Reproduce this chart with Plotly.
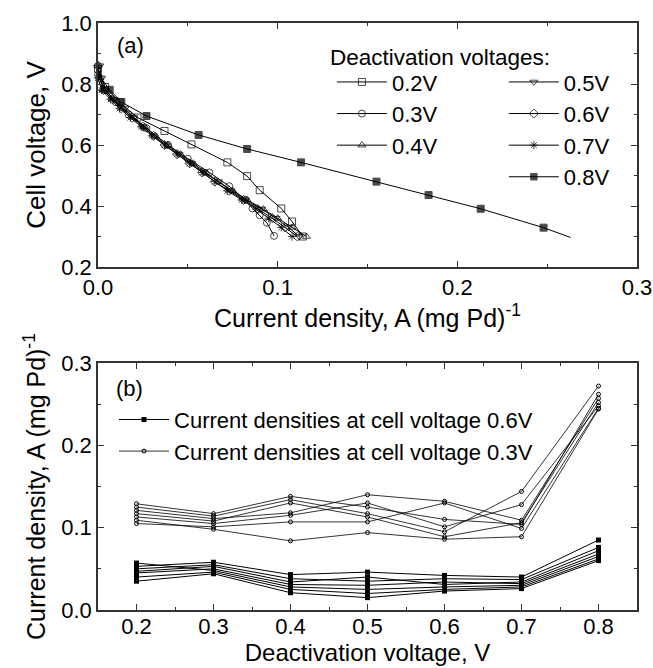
import plotly.graph_objects as go

# ---------------- Panel (a) data ----------------
v02_x = [0.000, 0.004, 0.012, 0.022, 0.037, 0.052, 0.072, 0.083, 0.090, 0.102, 0.108, 0.114]
v02_y = [0.850, 0.790, 0.740, 0.690, 0.646, 0.602, 0.543, 0.498, 0.452, 0.392, 0.349, 0.300]

v03_x = [0.000, 0.004, 0.010, 0.017, 0.027, 0.039, 0.050, 0.062, 0.073, 0.082, 0.086, 0.090, 0.094, 0.098]
v03_y = [0.830, 0.780, 0.740, 0.700, 0.655, 0.600, 0.555, 0.510, 0.465, 0.420, 0.392, 0.370, 0.345, 0.302]

grid_y = [0.86, 0.82, 0.78, 0.75, 0.72, 0.69, 0.66, 0.63, 0.60, 0.57, 0.54, 0.51, 0.48, 0.45, 0.42, 0.39, 0.36, 0.33, 0.30]
v04_x = [0.000, 0.001, 0.003, 0.008, 0.014, 0.020, 0.026, 0.032, 0.039, 0.046, 0.053, 0.060, 0.067, 0.075, 0.083, 0.092, 0.100, 0.108, 0.116]
v05_x = [0.001, 0.002, 0.004, 0.009, 0.015, 0.020, 0.025, 0.031, 0.038, 0.045, 0.052, 0.059, 0.067, 0.074, 0.082, 0.091, 0.099, 0.106, 0.112]
v06_x = [0.000, 0.001, 0.003, 0.008, 0.013, 0.019, 0.025, 0.031, 0.037, 0.044, 0.051, 0.058, 0.065, 0.073, 0.081, 0.089, 0.097, 0.104, 0.111]
v07_x = [0.000, 0.000, 0.002, 0.007, 0.012, 0.018, 0.024, 0.030, 0.037, 0.044, 0.051, 0.058, 0.065, 0.072, 0.080, 0.088, 0.095, 0.102, 0.108]

v08_x = [-0.003, 0.0065, 0.013, 0.027, 0.056, 0.083, 0.113, 0.155, 0.184, 0.213, 0.248, 0.263]
v08_y = [0.858, 0.781, 0.741, 0.695, 0.633, 0.587, 0.543, 0.480, 0.436, 0.391, 0.329, 0.297]

labels_a = ["0.2V", "0.3V", "0.4V", "0.5V", "0.6V", "0.7V", "0.8V"]

# ---------------- Panel (b) data ----------------
deact_v = [0.2, 0.3, 0.4, 0.5, 0.6, 0.7, 0.8]

cd_06 = [
    [0.053, 0.058, 0.043, 0.046, 0.042, 0.040, 0.085],
    [0.050, 0.055, 0.038, 0.035, 0.038, 0.037, 0.076],
    [0.047, 0.053, 0.034, 0.040, 0.031, 0.034, 0.072],
    [0.045, 0.050, 0.031, 0.030, 0.034, 0.032, 0.068],
    [0.057, 0.048, 0.028, 0.025, 0.028, 0.030, 0.065],
    [0.040, 0.046, 0.025, 0.020, 0.025, 0.028, 0.062],
    [0.035, 0.044, 0.021, 0.015, 0.023, 0.026, 0.060],
]
cd_03 = [
    [0.129, 0.117, 0.138, 0.125, 0.110, 0.104, 0.262],
    [0.125, 0.114, 0.134, 0.117, 0.095, 0.144, 0.272],
    [0.121, 0.111, 0.118, 0.140, 0.132, 0.109, 0.257],
    [0.117, 0.108, 0.130, 0.113, 0.089, 0.106, 0.252],
    [0.113, 0.105, 0.115, 0.130, 0.101, 0.128, 0.248],
    [0.105, 0.101, 0.107, 0.107, 0.130, 0.099, 0.245],
    [0.109, 0.098, 0.084, 0.094, 0.086, 0.089, 0.244],
]
labels_b = ["Current densities at cell voltage 0.6V", "Current densities at cell voltage 0.3V"]

FONT = "Liberation Sans, Arial, sans-serif"
fig = go.Figure()

series_a = [
    (v02_x, v02_y, "square-open", "legend"),
    (v03_x, v03_y, "circle-open", "legend"),
    (v04_x, grid_y, "triangle-up-open", "legend"),
    (v05_x, grid_y, "triangle-down-open", "legend2"),
    (v06_x, grid_y, "diamond-open", "legend2"),
    (v07_x, grid_y, "asterisk-open", "legend2"),
    (v08_x, v08_y, "square", "legend2"),
]
for i, (xs, ys, sym, lg) in enumerate(series_a):
    sizes = [7] * len(xs)
    if i == 6:
        sizes[-1] = 0
    fig.add_trace(go.Scatter(
        x=xs, y=ys, mode="lines+markers", name=labels_a[i],
        line=dict(color="black", width=1),
        marker=dict(symbol=sym, size=sizes, color="black", line=dict(color="black", width=1)),
        xaxis="x", yaxis="y", legend=lg, legendgroup="a%d" % i, cliponaxis=False,
    ))

for j, row in enumerate(cd_06):
    fig.add_trace(go.Scatter(
        x=deact_v, y=row, mode="lines+markers", name=labels_b[0],
        line=dict(color="black", width=1),
        marker=dict(symbol="square", size=5, color="black"),
        xaxis="x2", yaxis="y2", legend="legend3", legendgroup="b0",
        showlegend=(j == 0),
    ))
for j, row in enumerate(cd_03):
    fig.add_trace(go.Scatter(
        x=deact_v, y=row, mode="lines+markers", name=labels_b[1],
        line=dict(color="black", width=0.8),
        marker=dict(symbol="circle-open", size=4, color="black", line=dict(width=1)),
        xaxis="x2", yaxis="y2", legend="legend3", legendgroup="b1",
        showlegend=(j == 0),
    ))

axis_common = dict(
    showline=True, linecolor="#333", linewidth=1.5, mirror="ticks",
    ticks="inside", ticklen=6, tickwidth=1, tickcolor="#333",
    showgrid=False, zeroline=False, automargin=False,
    tickfont=dict(family=FONT, size=22, color="black"),
)
minor_common = dict(ticks="inside", ticklen=3, tickcolor="#333")

fig.update_layout(
    width=653, height=668,
    margin=dict(l=98, r=16, t=23, b=58),
    paper_bgcolor="white", plot_bgcolor="white",
    font=dict(family=FONT, color="black"),
    xaxis=dict(domain=[0, 1], range=[0, 0.3], dtick=0.1, tickformat=".1f",
               minor=dict(dtick=0.05, **minor_common),
               title=dict(text="Current density, A (mg Pd)<sup>-1</sup>", standoff=6,
                          font=dict(family=FONT, size=25, color="black")),
               anchor="y", **axis_common),
    yaxis=dict(domain=[0.5843, 1], range=[0.2, 1.0], dtick=0.2, tickformat=".1f",
               minor=dict(dtick=0.1, **minor_common),
               title=dict(text="Cell voltage, V", standoff=8,
                          font=dict(family=FONT, size=26, color="black")),
               anchor="x", **axis_common),
    xaxis2=dict(domain=[0, 1], range=[0.15, 0.85], dtick=0.1, tick0=0.2, tickformat=".1f",
                minor=dict(dtick=0.05, **minor_common),
                ticklabelstandoff=-4,
                title=dict(text="Deactivation voltage, V", standoff=5,
                           font=dict(family=FONT, size=24, color="black")),
                anchor="y2", **axis_common),
    yaxis2=dict(domain=[0, 0.4208], range=[0, 0.3], dtick=0.1, tickformat=".1f",
                minor=dict(dtick=0.05, **minor_common),
                title=dict(text="Current density, A (mg Pd)<sup>-1</sup>", standoff=8,
                           font=dict(family=FONT, size=25, color="black")),
                anchor="x2", **axis_common),
    legend=dict(x=0.434, y=0.935, xanchor="left", yanchor="top",
                bgcolor="rgba(0,0,0,0)", font=dict(family=FONT, size=22),
                tracegroupgap=0, itemwidth=50),
    legend2=dict(x=0.753, y=0.935, xanchor="left", yanchor="top",
                 bgcolor="rgba(0,0,0,0)", font=dict(family=FONT, size=22),
                 tracegroupgap=0, itemwidth=50),
    legend3=dict(x=0.0297, y=0.36, xanchor="left", yanchor="top",
                 bgcolor="rgba(0,0,0,0)", font=dict(family=FONT, size=22),
                 tracegroupgap=0, itemwidth=50),
    annotations=[
        dict(text="Deactivation voltages:", xref="paper", yref="paper", x=0.426, y=0.942,
             xanchor="left", yanchor="middle", showarrow=False,
             font=dict(family=FONT, size=22.5, color="black")),
        dict(text="(a)", xref="paper", yref="paper", x=0.0315, y=0.9625,
             xanchor="left", yanchor="middle", showarrow=False,
             font=dict(family=FONT, size=22, color="black")),
        dict(text="(b)", xref="paper", yref="paper", x=0.03, y=0.378,
             xanchor="left", yanchor="middle", showarrow=False,
             font=dict(family=FONT, size=22, color="black")),
    ],
)

fig.write_html("out.html", config={"displayModeBar": False},
               post_script="document.body.style.margin='0';document.body.style.overflow='hidden';")
